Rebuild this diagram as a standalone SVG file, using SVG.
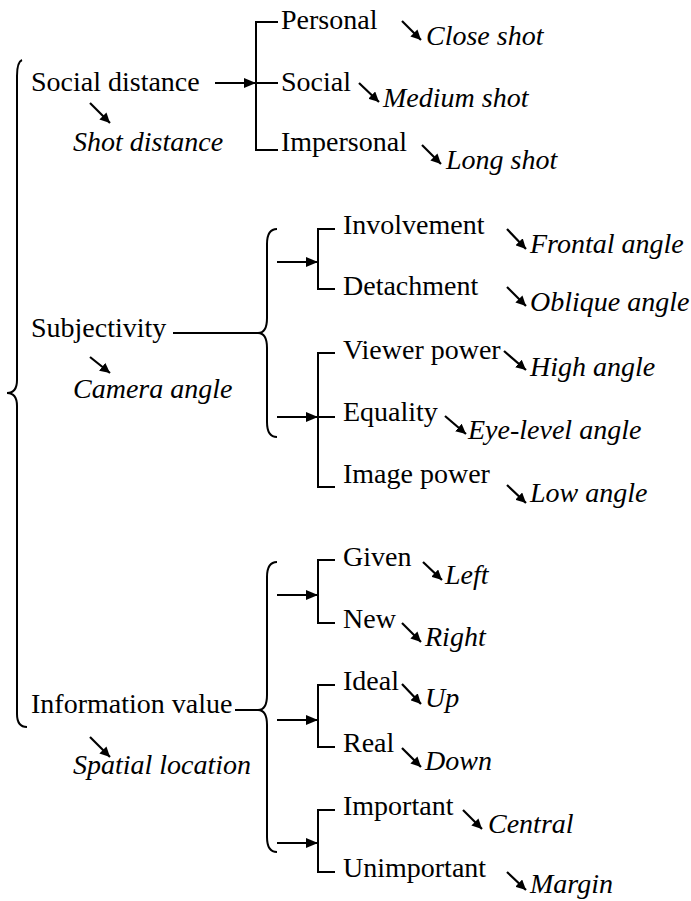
<svg xmlns="http://www.w3.org/2000/svg" width="691" height="901" viewBox="0 0 691 901" font-family="Liberation Serif, Times New Roman, DejaVu Serif, serif" font-size="28">
  <defs>
    <marker id="head" viewBox="0 0 10 10" refX="10" refY="5" markerWidth="10" markerHeight="10" markerUnits="userSpaceOnUse" orient="auto">
      <path d="M0,0 L10,5 L0,10 Z" fill="#000"/>
    </marker>
    <marker id="bighead" viewBox="0 0 12 10" refX="12" refY="5" markerWidth="12" markerHeight="10" markerUnits="userSpaceOnUse" orient="auto">
      <path d="M0,0 L12,5 L0,10 Z" fill="#000"/>
    </marker>
    <style>
      .t { font-family: "Liberation Serif", "Times New Roman", "DejaVu Serif", serif; font-size: 28px; fill: #000; }
      .i { font-style: italic; }
    </style>
  </defs>
  <rect width="691" height="901" fill="#fff"/>

  <!-- connectors: braces, brackets and arrows -->
  <g id="connectors" fill="none" stroke="#000" stroke-width="2">
    <!-- main brace -->
    <path d="M22,60 Q17,62 17,76 L17,380 Q17,393 7,393 Q17,393 17,406 L17,714 Q17,727 27,727"/>

    <!-- brackets and braces -->
    <path d="M278,22 L256,22 L256,150 L278,150 M256,83 L278,83"/>
    <path d="M173,333 L258,333"/>
    <path d="M277,229 Q267,229 267,244 L267,318 Q267,333 258,333 Q267,333 267,348 L267,422 Q267,437 277,437"/>
    <path d="M335,229 L318,229 L318,289 L335,289"/>
    <path d="M335,353 L318,353 L318,487 L335,487 M318,417 L335,417"/>
    <path d="M235,710 L258,710"/>
    <path d="M277,562 Q267,562 267,577 L267,695 Q267,710 258,710 Q267,710 267,725 L267,837 Q267,852 277,852"/>
    <path d="M335,560 L318,560 L318,623 L335,623"/>
    <path d="M335,685 L318,685 L318,747 L335,747"/>
    <path d="M335,810 L318,810 L318,872 L335,872"/>

    <!-- horizontal arrows -->
    <g marker-end="url(#bighead)">
      <path d="M215,83 L256,83"/>
      <path d="M277,262 L318,262"/>
      <path d="M277,417 L318,417"/>
      <path d="M277,595 L318,595"/>
      <path d="M277,720 L318,720"/>
      <path d="M277,843 L318,843"/>
    </g>

    <!-- small diagonal arrows -->
    <g marker-end="url(#head)" stroke-width="2.2">
      <path d="M90,103 L110,123"/>
      <path d="M402,21 L421,40"/>
      <path d="M359,83 L379,102"/>
      <path d="M422,145 L441,164"/>
      <path d="M90,357 L110,373"/>
      <path d="M507,229 L526,249"/>
      <path d="M507,287 L526,306"/>
      <path d="M504,351 L526,370"/>
      <path d="M445,416 L466,434"/>
      <path d="M507,485 L526,503"/>
      <path d="M90,737 L110,757"/>
      <path d="M423,562 L442,580"/>
      <path d="M402,623 L421,642"/>
      <path d="M402,684 L421,704"/>
      <path d="M402,748 L421,767"/>
      <path d="M463,810 L482,829"/>
      <path d="M507,872 L526,890"/>
    </g>
  </g>

  <g id="social-distance">
    <text class="t" x="31" y="91">Social distance</text>
    <text class="t i" x="73" y="151">Shot distance</text>
  </g>
  <g id="personal"><text class="t" x="281" y="29">Personal</text><text class="t i" x="426" y="45">Close shot</text></g>
  <g id="social"><text class="t" x="281" y="91">Social</text><text class="t i" x="383" y="107">Medium shot</text></g>
  <g id="impersonal"><text class="t" x="281" y="151">Impersonal</text><text class="t i" x="446" y="169">Long shot</text></g>

  <g id="subjectivity">
    <text class="t" x="31" y="337">Subjectivity</text>
    <text class="t i" x="73" y="398">Camera angle</text>
  </g>
  <g id="involvement"><text class="t" x="343" y="234">Involvement</text><text class="t i" x="530" y="253">Frontal angle</text></g>
  <g id="detachment"><text class="t" x="343" y="295">Detachment</text><text class="t i" x="530" y="311">Oblique angle</text></g>
  <g id="viewer-power"><text class="t" x="343" y="359">Viewer power</text><text class="t i" x="530" y="376">High angle</text></g>
  <g id="equality"><text class="t" x="343" y="421">Equality</text><text class="t i" x="468" y="439">Eye-level angle</text></g>
  <g id="image-power"><text class="t" x="343" y="483">Image power</text><text class="t i" x="530" y="502">Low angle</text></g>

  <g id="information-value">
    <text class="t" x="31" y="713">Information value</text>
    <text class="t i" x="73" y="774">Spatial location</text>
  </g>
  <g id="given"><text class="t" x="343" y="566">Given</text><text class="t i" x="445" y="584">Left</text></g>
  <g id="new"><text class="t" x="343" y="628">New</text><text class="t i" x="425" y="646">Right</text></g>
  <g id="ideal"><text class="t" x="343" y="690">Ideal</text><text class="t i" x="425" y="707">Up</text></g>
  <g id="real"><text class="t" x="343" y="752">Real</text><text class="t i" x="425" y="770">Down</text></g>
  <g id="important"><text class="t" x="343" y="815">Important</text><text class="t i" x="488" y="833">Central</text></g>
  <g id="unimportant"><text class="t" x="343" y="877">Unimportant</text><text class="t i" x="530" y="893">Margin</text></g>
</svg>
